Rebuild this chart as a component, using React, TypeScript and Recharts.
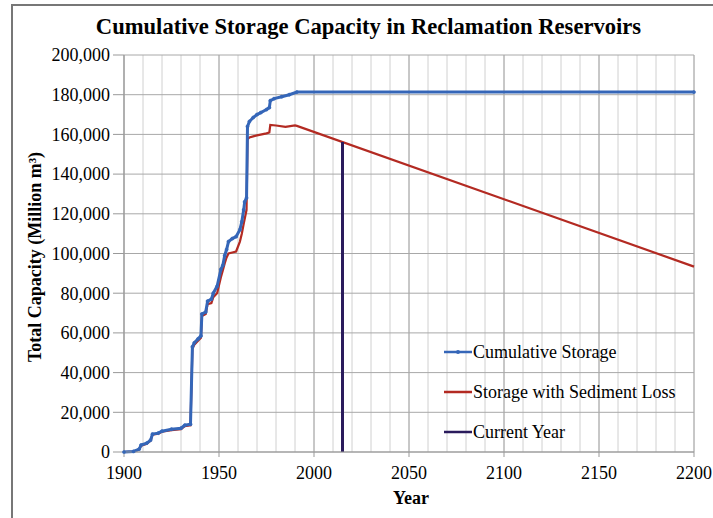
import React from "react";
import {
  LineChart,
  Line,
  XAxis,
  YAxis,
  CartesianGrid,
  Label,
} from "recharts";

const cumYears = [
  1900, 1905, 1908, 1909, 1912, 1914, 1915, 1918, 1920, 1925, 1930, 1932, 1935,
  1936, 1937, 1939, 1940.5, 1941, 1943, 1944, 1946, 1947, 1949, 1951, 1952,
  1953, 1954, 1955, 1957, 1959, 1961, 1962, 1963, 1963.5, 1964.5, 1965, 1966,
  1968, 1970, 1972, 1975, 1976.5, 1977, 1979, 1983, 1987, 1991, 2200,
];
const cumValues = [
  0, 300, 1500, 3500, 4500, 6000, 9000, 9500, 10500, 11500, 12000, 13500, 14000,
  53000, 55000, 57000, 58500, 69500, 70500, 76000, 77000, 80000, 83500, 92000,
  94000, 99000, 102000, 106000, 107500, 108500, 112000, 116000, 122000, 126000,
  128000, 164000, 166500, 168500, 170000, 171000, 172500, 173500, 177000,
  178000, 179000, 180000, 181300, 181300,
];

const sedYears = [
  1900, 1905, 1908, 1909, 1912, 1914, 1915, 1918, 1920, 1925, 1930, 1932, 1935,
  1936, 1937, 1939, 1940.5, 1941, 1943, 1944, 1946, 1947, 1949, 1951, 1952,
  1953, 1954, 1955, 1957, 1959, 1961, 1962, 1963, 1964.5, 1965, 1966, 1968,
  1970, 1975, 1976.5, 1977, 1980, 1985, 1990, 1991, 2200,
];
const sedValues = [
  0, 200, 1300, 3200, 4200, 5800, 8700, 9200, 10200, 11000, 11500, 13000, 13500,
  52000, 54000, 56000, 57500, 68500, 69500, 74500, 75000, 78000, 80000, 88000,
  91500, 95000, 98000, 100000, 100500, 101000, 106000, 110000, 115000, 122000,
  157500, 158500, 159000, 159500, 160500, 161000, 164800, 164500, 163800,
  164500, 164300, 93400,
];

const currentYear = 2015;
const currentYearValues = [0, 156200];

const X_MIN = 1900;
const X_MAX = 2200;
const xTicks = [1900, 1950, 2000, 2050, 2100, 2150, 2200];
const yTicks = [
  0, 20000, 40000, 60000, 80000, 100000, 120000, 140000, 160000, 180000, 200000,
];
const decadeYears = Array.from({ length: 31 }, (_, i) => 1900 + i * 10);

const seriesNames = [
  "Cumulative Storage",
  "Storage with Sediment Loss",
  "Current Year",
];
const BLUE = "#3566B8";
const RED = "#B32A22";
const NAVY = "#2A1B5C";
const seriesColors = [BLUE, RED, NAVY];

const cumData = cumYears.map((x, i) => ({ x, v: cumValues[i] }));
const sedData = sedYears.map((x, i) => ({ x, v: sedValues[i] }));
const curData = currentYearValues.map((v) => ({ x: currentYear, v }));

const FONT = '"Liberation Serif", "Times New Roman", serif';

const fmt = (v: number) => v.toLocaleString("en-US");

const decadeGen = (props: any) => {
  const { xAxis, offset } = props;
  if (xAxis && typeof xAxis.scale === "function") {
    return decadeYears.map((d) => xAxis.scale(d));
  }
  return decadeYears.map(
    (d) => offset.left + ((d - X_MIN) / (X_MAX - X_MIN)) * offset.width
  );
};

export default function App() {
  return (
    <div
      style={{
        position: "absolute",
        left: 0,
        top: 0,
        width: 713,
        height: 518,
        background: "#fff",
        overflow: "hidden",
      }}
    >
      <div
        style={{
          position: "absolute",
          left: 11,
          top: 4,
          width: 720,
          height: 540,
          borderTop: "2px solid #777",
          borderLeft: "2px solid #777",
        }}
      />
      <div
        style={{
          position: "absolute",
          left: 0,
          top: 14,
          width: 737,
          textAlign: "center",
          fontFamily: FONT,
          fontWeight: "bold",
          fontSize: 22.6,
          color: "#000",
        }}
      >
        Cumulative Storage Capacity in Reclamation Reservoirs
      </div>
      <LineChart
        width={713}
        height={518}
        margin={{ top: 55, right: 19, bottom: 0, left: 0 }}
        style={{ position: "absolute", left: 0, top: 0 }}
      >
        <CartesianGrid
          horizontal={false}
          vertical={true}
          stroke="#d0d0d0"
          verticalCoordinatesGenerator={decadeGen}
        />
        <CartesianGrid stroke="#a8a8a8" horizontal={true} vertical={true} />
        <XAxis
          type="number"
          dataKey="x"
          domain={[X_MIN, X_MAX]}
          ticks={xTicks}
          allowDuplicatedCategory={false}
          tickSize={5}
          tickMargin={9}
          height={66}
          stroke="#999"
          tick={{ fill: "#000", fontSize: 18, fontFamily: FONT }}
        >
          <Label
            content={() => (
              <text
                x={411}
                y={504}
                textAnchor="middle"
                fontFamily={FONT}
                fontWeight="bold"
                fontSize={18}
                fill="#000"
              >
                Year
              </text>
            )}
          />
        </XAxis>
        <YAxis
          type="number"
          domain={[0, 200000]}
          ticks={yTicks}
          tickFormatter={fmt}
          width={124}
          tickSize={11}
          tickMargin={3}
          stroke="#999"
          tick={{ fill: "#000", fontSize: 18, fontFamily: FONT }}
        >
          <Label
            content={() => (
              <text
                x={41}
                y={257}
                transform="rotate(-90 41 257)"
                textAnchor="middle"
                fontFamily={FONT}
                fontWeight="bold"
                fontSize={18}
                fill="#000"
              >
                Total Capacity (Million m³)
              </text>
            )}
          />
        </YAxis>
        <Line
          data={sedData}
          dataKey="v"
          name={seriesNames[1]}
          stroke={RED}
          strokeWidth={2.2}
          dot={false}
          isAnimationActive={false}
        />
        <Line
          data={cumData}
          dataKey="v"
          name={seriesNames[0]}
          stroke={BLUE}
          strokeWidth={3}
          dot={{ r: 1.6, fill: BLUE, stroke: BLUE, strokeWidth: 0.5 }}
          isAnimationActive={false}
        />
        <Line
          data={curData}
          dataKey="v"
          name={seriesNames[2]}
          stroke={NAVY}
          strokeWidth={3}
          dot={false}
          isAnimationActive={false}
        />
      </LineChart>
      <div
        style={{
          position: "absolute",
          left: 444,
          top: 332,
          fontFamily: FONT,
          fontSize: 18,
          color: "#000",
        }}
      >
        {seriesNames.map((n, i) => (
          <div
            key={n}
            style={{ display: "flex", alignItems: "center", height: 40 }}
          >
            <svg width={28} height={10} style={{ marginRight: 1 }}>
              <line
                x1={0}
                y1={5}
                x2={28}
                y2={5}
                stroke={seriesColors[i]}
                strokeWidth={2.5}
              />
              {i === 0 && <circle cx={14} cy={5} r={2} fill={BLUE} />}
            </svg>
            <span>{n}</span>
          </div>
        ))}
      </div>
    </div>
  );
}
